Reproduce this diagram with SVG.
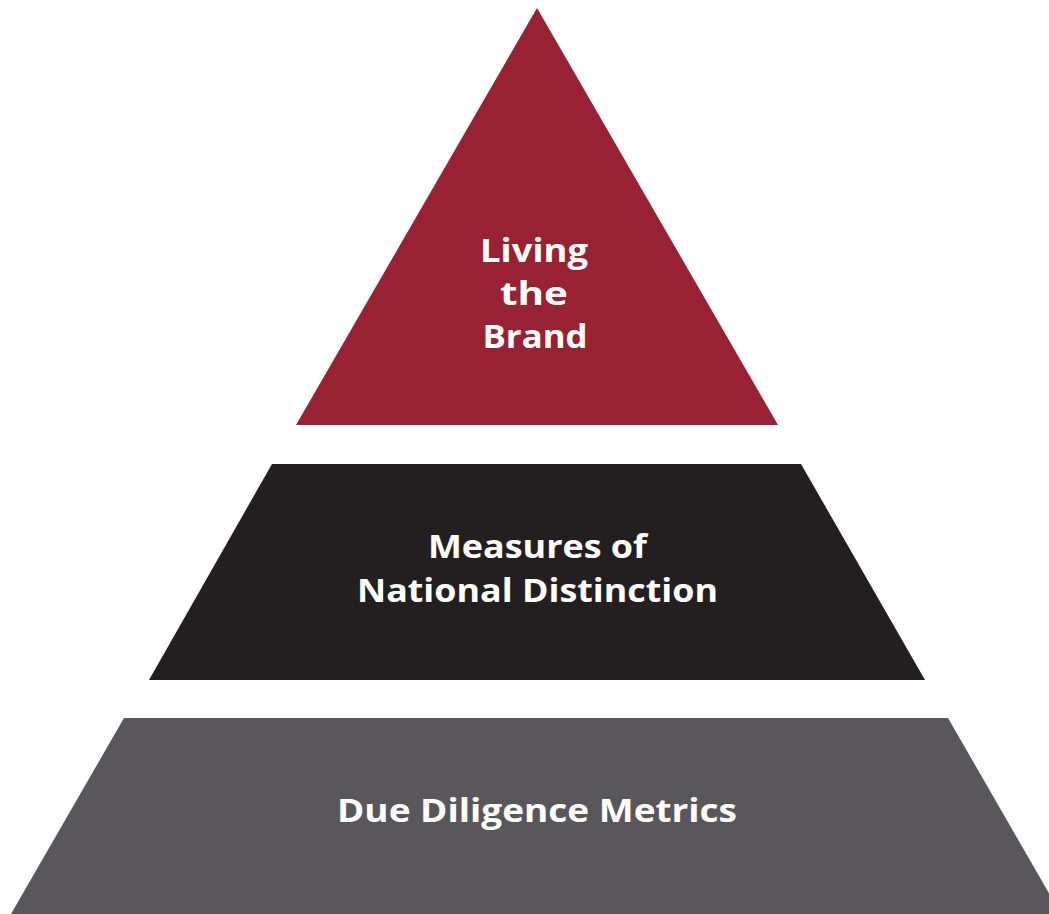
<svg xmlns="http://www.w3.org/2000/svg" width="1049" height="914" viewBox="0 0 1049 914">
<style>
.lbl{font-family:"Open Sans","Liberation Sans",sans-serif;font-weight:700;fill:#ffffff;text-anchor:middle}
</style>
<rect width="1049" height="914" fill="#ffffff"/>
<g id="top">
<polygon points="537,8 778,425 296,425" fill="#982133"/>
<text class="lbl" x="534" y="262" font-size="32" textLength="108" lengthAdjust="spacingAndGlyphs">Living</text>
<text class="lbl" x="534" y="305" font-size="33" textLength="68" lengthAdjust="spacingAndGlyphs">the</text>
<text class="lbl" x="535" y="348" font-size="33" textLength="105" lengthAdjust="spacingAndGlyphs">Brand</text>
</g>
<g id="middle">
<polygon points="272,464 801,464 925,680 149,680" fill="#231f20"/>
<text class="lbl" x="537.5" y="558" font-size="33" textLength="219" lengthAdjust="spacingAndGlyphs">Measures of</text>
<text class="lbl" x="537.5" y="602" font-size="33" textLength="361" lengthAdjust="spacingAndGlyphs">National Distinction</text>
</g>
<g id="bottom">
<polygon points="124,718 948,718 1061,914 11,914" fill="#59575b"/>
<text class="lbl" x="537" y="822" font-size="33" textLength="400" lengthAdjust="spacingAndGlyphs">Due Diligence Metrics</text>
</g>
<g id="connectors"/>
</svg>
